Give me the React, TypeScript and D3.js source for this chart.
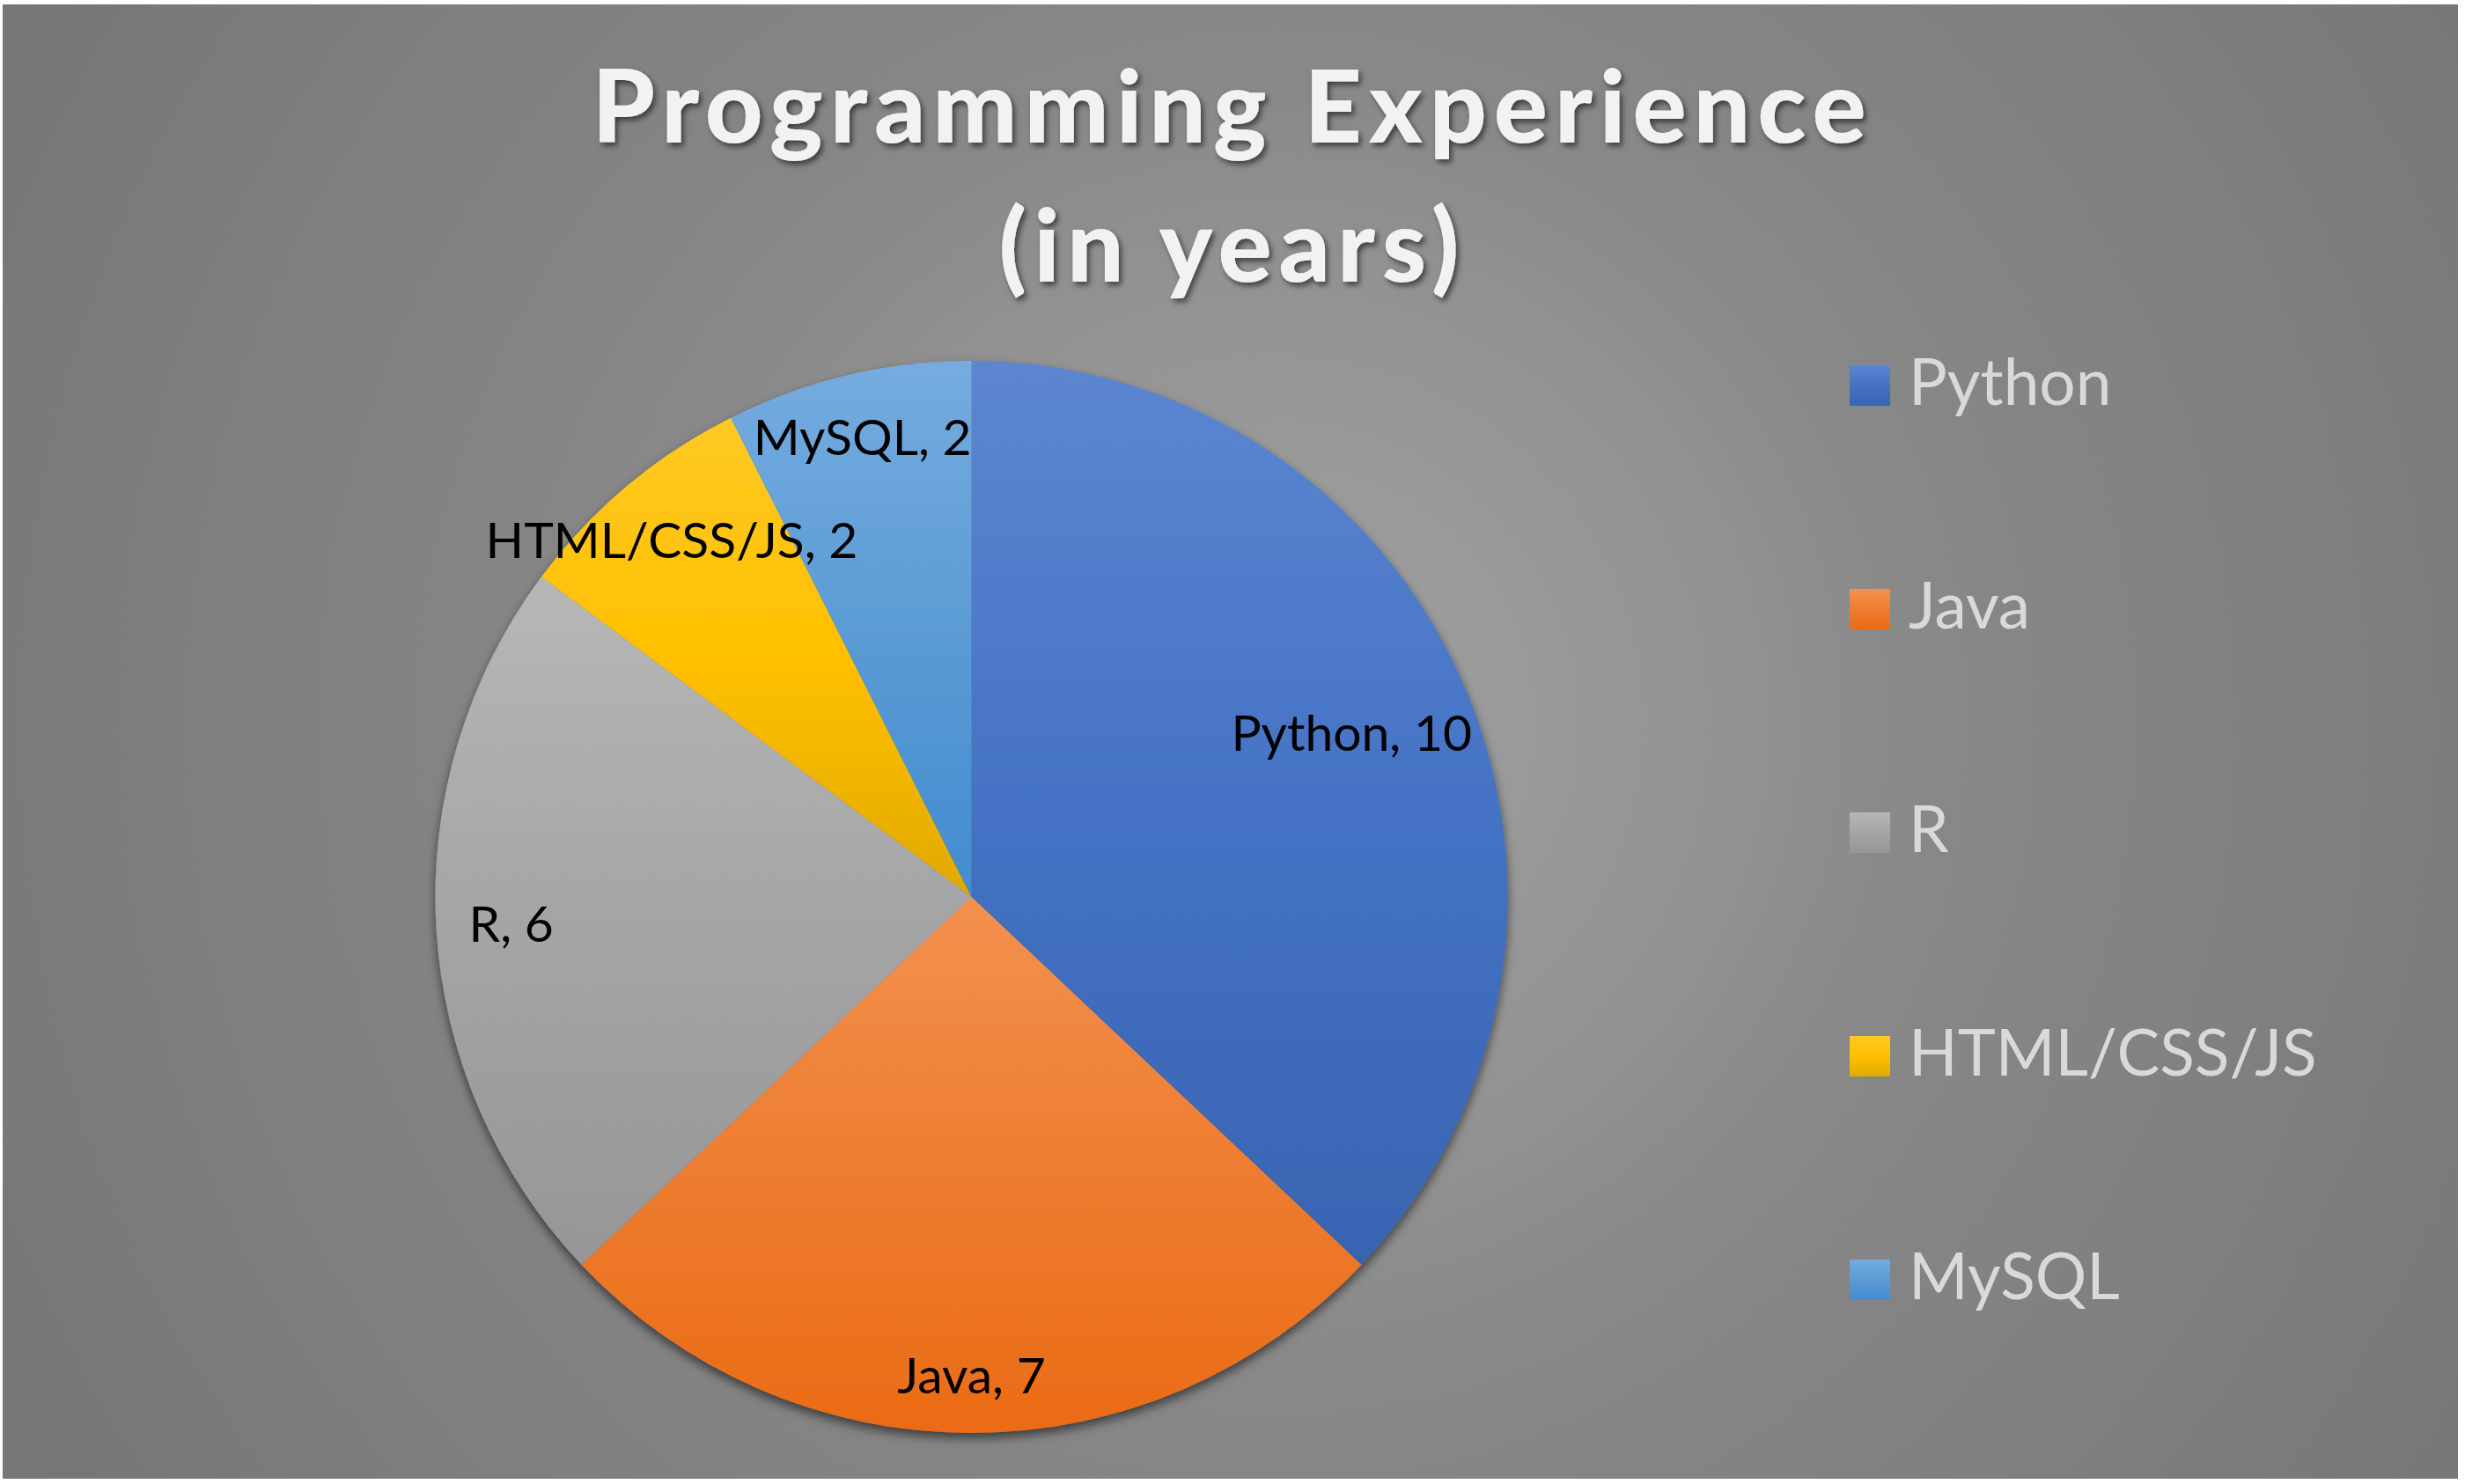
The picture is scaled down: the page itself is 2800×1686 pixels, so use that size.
import React from 'react';
import * as d3 from 'd3';

// ---- data ----
const categories: string[] = ['Python', 'Java', 'R', 'HTML/CSS/JS', 'MySQL'];
const values: number[] = [10, 7, 6, 2, 2];
const baseColors: string[] = ['#4472C4', '#ED7D31', '#A5A5A5', '#FFC000', '#5B9BD5'];
const titleLines: string[] = ['Programming Experience', '(in years)'];

// ---- layout ----
const W = 2800;
const H = 1686;
const CX = 1103.5;
const CY = 1019;
const R = 609;
const labelRadius = [0.772, 0.892, 0.86, 0.87, 0.882];
const FONT = 'Lato, "Open Sans", sans-serif';

function shade(c: string, dl: number, ds: number) {
  const h = d3.hsl(c);
  h.l = Math.max(0, Math.min(1, h.l + dl));
  h.s = Math.max(0, Math.min(1, h.s + ds));
  return h.formatHex();
}

export default function App() {
  const pie = d3.pie<number>().sort(null).value((d) => d);
  const arcs = pie(values);
  const arcGen = d3.arc<d3.PieArcDatum<number>>().innerRadius(0).outerRadius(R);

  const labelFont = 57;
  const legendFont = 73;
  const legendY = d3.scaleLinear().domain([0, categories.length - 1]).range([438, 438 + 254 * 4]);

  return (
    <div style={{ position: 'absolute', left: 0, top: 0, width: W, height: H, background: '#fff' }}>
      <svg width={W} height={H} xmlns="http://www.w3.org/2000/svg">
        <defs>
          <radialGradient id="bg" gradientUnits="userSpaceOnUse" cx={1450} cy={820} r={1650}>
            <stop offset="0" stopColor="#a2a2a2" />
            <stop offset="0.3" stopColor="#939393" />
            <stop offset="0.45" stopColor="#888888" />
            <stop offset="1" stopColor="#767676" />
          </radialGradient>
          {baseColors.map((c, i) => (
            <linearGradient key={i} id={`g${i}`} x1="0" y1="0" x2="0" y2="1">
              <stop offset="0" stopColor={shade(c, 0.07, 0.03)} />
              <stop offset="0.5" stopColor={c} />
              <stop offset="1" stopColor={shade(c, -0.06, 0.0)} />
            </linearGradient>
          ))}
          <filter id="pieShadow" x="-10%" y="-10%" width="120%" height="125%">
            <feDropShadow dx="0" dy="6" stdDeviation="6" floodColor="#000" floodOpacity="0.55" />
          </filter>
          <filter id="titleShadow" x="-5%" y="-20%" width="110%" height="150%">
            <feDropShadow dx="3" dy="4" stdDeviation="3" floodColor="#000" floodOpacity="0.55" />
          </filter>
        </defs>

        <rect x={3} y={5} width={2789} height={1675} fill="url(#bg)" />

        {/* title */}
        <g
          filter="url(#titleShadow)"
          fill="#f2f2f2"
          fontFamily={FONT}
          fontWeight={900}
          fontSize={114}
          letterSpacing={8}
          textAnchor="middle"
        >
          <text x={1400} y={162}>{titleLines[0]}</text>
          <text x={1400} y={320}>{titleLines[1]}</text>
        </g>

        {/* pie */}
        <g transform={`translate(${CX},${CY})`}>
          <g filter="url(#pieShadow)">
            {arcs.map((a, i) => (
              <path key={i} d={arcGen(a) || ''} fill={`url(#g${i})`} />
            ))}
          </g>
          {arcs.map((a, i) => {
            const lr = R * labelRadius[i];
            const [x, y] = d3.arc<d3.PieArcDatum<number>>().innerRadius(lr).outerRadius(lr).centroid(a);
            return (
              <text
                key={i}
                x={x}
                y={y + labelFont * 0.36}
                textAnchor="middle"
                fontFamily={FONT}
                fontSize={labelFont}
                fill="#000"
              >
                {`${categories[i]}, ${values[i]}`}
              </text>
            );
          })}
        </g>

        {/* legend */}
        {categories.map((c, i) => {
          const cy = legendY(i);
          return (
            <g key={c}>
              <rect x={2101} y={cy - 23} width={46} height={46} fill={`url(#g${i})`} />
              <text x={2168} y={cy + 22} fontFamily={FONT} fontSize={legendFont} fill="#d9d9d9">
                {c}
              </text>
            </g>
          );
        })}
      </svg>
    </div>
  );
}
